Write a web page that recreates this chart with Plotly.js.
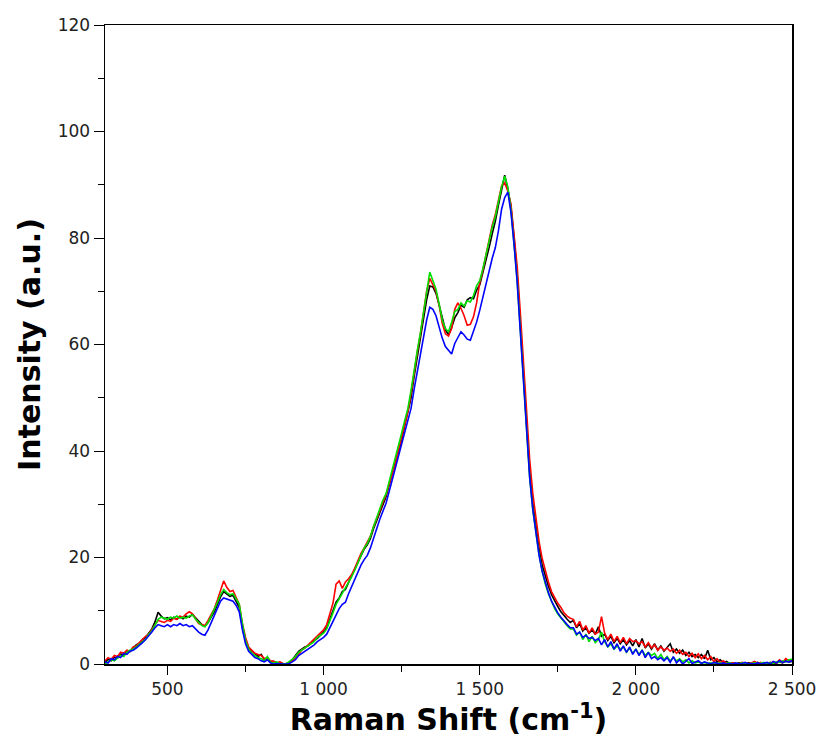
<!DOCTYPE html>
<html>
<head>
<meta charset="utf-8">
<script src="https://cdn.plot.ly/plotly-3.0.1.min.js"></script>
<style>html,body{margin:0;padding:0;background:#fff;}#chart{width:822px;height:744px;}</style>
</head>
<body>
<div id="chart"></div>
<script>
// Raman shift grid (cm-1)
const shift = [
 300,310,320,330,340,350,360,370,380,390,
 400,410,420,430,440,450,460,470,480,490,
 500,510,520,530,540,550,560,570,580,590,
 600,610,620,630,640,650,660,670,680,690,
 700,710,720,730,740,750,760,770,780,790,
 800,810,820,830,840,850,860,870,880,890,
 900,910,920,930,940,950,960,970,980,990,
 1000,1010,1020,1030,1040,1050,1060,1070,1080,1090,
 1100,1110,1120,1130,1140,1150,1160,1170,1180,1190,
 1200,1210,1220,1230,1240,1250,1260,1270,1280,1290,
 1300,1310,1320,1330,1340,1350,1360,1370,1380,1390,
 1400,1410,1420,1430,1440,1450,1460,1470,1480,1490,
 1500,1510,1520,1530,1540,1550,1560,1570,1580,1590,
 1600,1610,1620,1630,1640,1650,1660,1670,1680,1690,
 1700,1710,1720,1730,1740,1750,1760,1770,1780,1790,
 1800,1810,1820,1830,1840,1850,1860,1870,1880,1890,
 1900,1910,1920,1930,1940,1950,1960,1970,1980,1990,
 2000,2010,2020,2030,2040,2050,2060,2070,2080,2090,
 2100,2110,2120,2130,2140,2150,2160,2170,2180,2190,
 2200,2210,2220,2230,2240,2250,2260,2270,2280,2290,
 2300,2310,2320,2330,2340,2350,2360,2370,2380,2390,
 2400,2410,2420,2430,2440,2450,2460,2470,2480,2490,
 2500
];

const blackSeries = [
 0.3,0.9,0.6,1.3,1.1,1.9,1.7,2.4,2.3,3.0,
 3.6,3.9,4.6,5.0,5.8,6.6,7.9,9.7,9.0,8.5,
 8.7,8.3,8.8,8.4,8.9,8.5,9.0,8.8,9.3,8.6,
 8.0,7.4,7.1,7.8,8.8,9.8,11.2,12.6,13.6,13.2,
 12.7,12.9,11.8,10.6,7.0,4.6,3.0,2.4,2.0,1.4,
 1.8,0.8,0.9,0.4,0.5,0.2,0.3,0.0,0.1,0.3,
 0.8,1.6,2.4,2.8,3.2,3.4,4.0,4.4,4.8,5.4,
 6.0,6.8,8.4,9.8,11.6,12.4,13.6,14.0,15.4,16.6,
 17.8,19.0,20.4,21.6,22.4,23.6,25.4,27.0,28.6,30.2,
 31.4,33.6,35.6,37.8,40.0,42.2,44.8,46.8,50.0,54.0,
 57.4,60.6,64.8,68.4,71.0,70.8,69.6,67.4,65.0,62.8,
 61.8,63.2,65.0,66.0,67.4,67.0,68.4,68.8,68.6,70.2,
 71.2,73.4,75.6,78.2,80.8,83.2,86.2,88.8,91.8,89.2,
 85.8,80.0,73.0,63.8,55.0,44.6,36.0,30.0,25.6,21.8,
 18.6,16.4,14.6,13.0,11.8,10.8,9.8,9.0,8.4,7.8,
 8.2,6.8,7.6,6.2,6.8,5.8,6.4,5.6,7.0,5.2,
 5.6,4.4,5.2,4.0,4.8,3.8,4.6,3.6,4.4,3.4,
 4.6,3.2,4.8,3.0,3.8,2.8,3.8,2.6,3.4,2.4,
 3.2,3.8,2.2,2.8,2.0,2.6,1.6,2.2,1.4,1.8,
 1.2,1.8,1.0,2.6,0.8,1.2,0.4,0.8,0.2,0.5,
 0.1,0.2,0.0,0.2,0.1,0.0,0.2,0.1,0.0,0.3,
 0.1,0.2,0.0,0.3,0.1,0.2,0.4,0.2,0.6,0.4,
 0.5
];

const redSeries = [
 0.6,1.2,0.9,1.6,1.4,2.2,2.0,2.6,2.4,3.2,
 3.4,4.0,4.4,5.2,5.6,6.4,7.4,8.2,8.0,7.8,
 8.2,8.0,8.6,8.4,9.0,8.8,9.4,9.8,9.4,8.4,
 7.6,7.4,7.2,8.2,9.2,10.4,12.0,14.0,15.6,14.4,
 13.6,13.8,12.4,11.2,7.6,5.0,3.2,2.6,2.0,1.8,
 1.6,1.0,1.2,0.6,0.5,0.2,0.4,0.1,0.0,0.2,
 0.6,1.2,2.0,2.6,3.0,3.6,4.2,4.6,5.4,5.8,
 6.4,7.4,9.6,11.4,15.0,15.6,14.2,15.4,16.0,16.8,
 18.0,19.4,20.8,21.8,22.8,24.0,25.8,27.2,28.8,30.4,
 31.8,33.8,35.8,37.6,40.2,42.6,45.0,47.4,50.8,55.0,
 58.6,62.0,66.0,70.0,72.4,71.2,70.0,67.4,64.0,62.0,
 61.6,63.0,66.6,67.8,66.8,65.4,63.6,63.8,65.2,67.8,
 71.6,74.0,77.0,80.0,82.4,84.4,87.2,89.8,90.4,88.8,
 86.4,81.0,74.6,66.0,57.0,47.0,38.4,32.0,27.2,23.0,
 19.8,17.4,15.4,13.6,12.4,11.4,10.6,9.6,9.0,8.6,
 8.4,7.0,8.0,6.4,7.2,5.8,6.8,5.6,6.0,8.9,
 5.8,4.6,5.6,4.2,5.2,4.0,5.0,3.8,4.8,4.2,
 4.4,3.8,4.2,3.2,4.0,3.0,3.6,2.6,3.2,2.6,
 3.0,2.4,2.8,2.0,2.6,1.8,2.2,1.4,2.0,1.2,
 1.9,1.0,1.6,0.8,1.4,0.4,1.0,0.3,0.6,0.1,
 0.0,0.2,0.1,0.0,0.3,0.1,0.0,0.2,0.5,0.1,
 0.3,0.0,0.2,0.1,0.4,0.2,0.8,0.3,1.0,0.6,
 0.8
];

const greenSeries = [
 0.0,0.4,0.8,0.6,1.2,1.6,1.4,2.2,2.6,2.8,
 3.2,3.8,4.2,4.6,5.6,6.2,7.4,8.4,8.8,8.6,
 8.4,8.8,8.6,9.0,8.6,8.8,8.6,9.0,9.2,8.4,
 7.8,7.2,7.0,7.8,9.0,10.2,11.6,13.0,14.0,13.4,
 13.0,13.2,12.2,11.2,7.6,4.4,2.8,2.0,1.6,1.2,
 1.0,0.6,1.4,0.3,0.2,0.4,0.0,0.1,0.0,0.4,
 0.9,1.4,2.2,2.6,3.0,3.4,3.8,4.2,5.0,5.4,
 5.8,6.6,8.0,9.6,11.2,12.2,13.2,14.2,15.2,16.4,
 17.6,19.0,20.6,21.8,22.6,24.0,25.8,27.6,29.2,30.8,
 32.0,34.2,36.4,38.6,41.0,43.4,45.8,48.0,51.4,55.4,
 58.8,62.2,66.2,70.4,73.6,72.0,70.4,67.6,64.6,63.0,
 62.4,64.2,66.2,66.6,67.8,67.2,68.2,68.0,69.2,71.0,
 72.0,74.2,77.0,79.6,82.0,84.0,86.8,89.6,91.6,89.6,
 85.4,79.2,72.0,62.8,53.8,43.6,35.0,29.0,24.6,20.6,
 17.4,15.0,13.2,11.6,10.4,9.4,8.6,7.8,7.2,6.6,
 6.6,5.4,6.0,4.6,5.6,4.2,5.2,4.0,4.6,6.0,
 4.2,3.2,3.8,2.8,3.4,2.8,3.2,2.2,3.0,2.0,
 2.8,1.8,2.6,1.6,2.2,1.6,2.0,1.0,1.8,0.8,
 1.4,0.6,1.2,0.6,1.0,0.4,0.8,0.2,0.6,0.2,
 0.4,0.2,0.3,0.1,0.2,0.0,0.1,0.2,0.0,0.1,
 0.2,0.0,0.1,0.0,0.2,0.1,0.0,0.1,0.2,0.0,
 0.1,0.3,0.0,0.2,0.1,0.4,0.3,0.6,0.4,0.8,
 0.9
];

const blueSeries = [
 0.4,0.2,1.0,0.8,1.4,1.2,2.0,1.8,2.4,2.6,
 3.0,3.6,4.0,4.6,5.2,6.0,6.8,7.4,7.2,7.0,
 7.4,7.0,7.4,7.2,7.6,7.2,7.4,7.0,7.2,6.6,
 6.0,5.6,5.4,6.4,7.8,9.0,10.6,11.8,12.4,12.2,
 12.0,11.8,11.0,9.8,6.4,3.8,2.4,1.8,1.2,1.0,
 0.6,0.4,0.8,0.2,0.0,0.1,0.0,0.0,0.0,0.1,
 0.4,0.8,1.6,2.0,2.4,2.8,3.2,3.6,4.2,4.6,
 5.0,5.6,6.8,8.0,9.4,10.4,11.2,11.6,13.2,14.6,
 15.8,17.2,18.6,19.6,20.4,21.8,23.4,25.4,27.2,28.8,
 30.2,32.4,34.6,36.6,38.8,41.0,43.2,45.4,48.0,51.6,
 54.8,58.6,61.6,64.6,67.0,66.6,65.4,63.2,61.2,59.6,
 59.0,58.2,60.2,61.4,62.4,61.8,61.0,60.8,62.4,64.2,
 66.4,68.8,71.4,74.0,76.2,78.2,81.4,85.4,87.6,88.6,
 84.8,78.8,71.6,62.4,53.6,43.4,35.0,29.0,24.4,20.4,
 17.4,15.2,13.4,11.8,10.6,9.6,8.8,8.0,7.4,6.8,
 6.8,5.6,6.0,5.0,5.4,4.8,5.0,4.4,4.8,3.6,
 4.6,3.2,4.2,2.8,3.8,2.4,3.4,2.2,3.2,1.8,
 2.8,1.6,2.6,1.2,2.2,1.0,1.4,0.8,1.2,0.6,
 1.2,0.3,1.4,0.2,0.8,0.0,0.6,1.0,0.1,0.4,
 0.6,0.1,0.4,0.2,0.0,0.3,0.1,0.0,0.2,0.0,
 0.1,0.0,0.2,0.0,0.1,0.3,0.0,0.1,0.0,0.2,
 0.0,0.1,0.3,0.0,0.5,0.2,0.6,0.3,0.5,0.4,
 0.6
];

const seriesList = [
  {name: 'Spectrum 1', y: blackSeries, color: '#000000'},
  {name: 'Spectrum 2', y: redSeries,   color: '#ff0000'},
  {name: 'Spectrum 3', y: greenSeries, color: '#00e000'},
  {name: 'Spectrum 4', y: blueSeries,  color: '#0000ff'}
];

const traces = seriesList.map(s => ({
  type: 'scatter', mode: 'lines', name: s.name,
  x: shift, y: s.y,
  line: {color: s.color, width: 1.6},
  cliponaxis: true
}));

const tickFont = {family: 'DejaVu Sans, Verdana, sans-serif', size: 17, color: '#222'};
const titleFont = {family: 'DejaVu Sans, Verdana, sans-serif', size: 30, color: '#000', weight: 'bold'};

const layout = {
  width: 822, height: 744,
  margin: {l: 105, r: 30, t: 25, b: 80},
  paper_bgcolor: '#fff', plot_bgcolor: '#fff',
  showlegend: false,
  separators: '. ',
  xaxis: {
    range: [300, 2500], tick0: 0, dtick: 500,
    separatethousands: true,
    ticks: 'outside', ticklen: 9, tickwidth: 1, tickcolor: '#000',
    minor: {dtick: 250, tick0: 0, ticks: 'outside', ticklen: 6, tickwidth: 1, tickcolor: '#000', showgrid: false},
    showline: true, linecolor: '#000', linewidth: 1.5, mirror: true,
    showgrid: false, zeroline: false,
    tickfont: tickFont,
    title: {text: 'Raman Shift (cm<sup>-1</sup>)', font: titleFont, standoff: 6}
  },
  yaxis: {
    range: [0, 120], tick0: 0, dtick: 20,
    ticks: 'outside', ticklen: 10, tickwidth: 1, tickcolor: '#000',
    minor: {dtick: 10, tick0: 0, ticks: 'outside', ticklen: 6, tickwidth: 1, tickcolor: '#000', showgrid: false},
    showline: true, linecolor: '#000', linewidth: 1.5, mirror: true,
    showgrid: false, zeroline: false,
    tickfont: tickFont,
    title: {text: 'Intensity (a.u.)', font: titleFont, standoff: 8}
  }
};

Plotly.newPlot('chart', traces, layout, {displayModeBar: false, staticPlot: true});
</script>
</body>
</html>
